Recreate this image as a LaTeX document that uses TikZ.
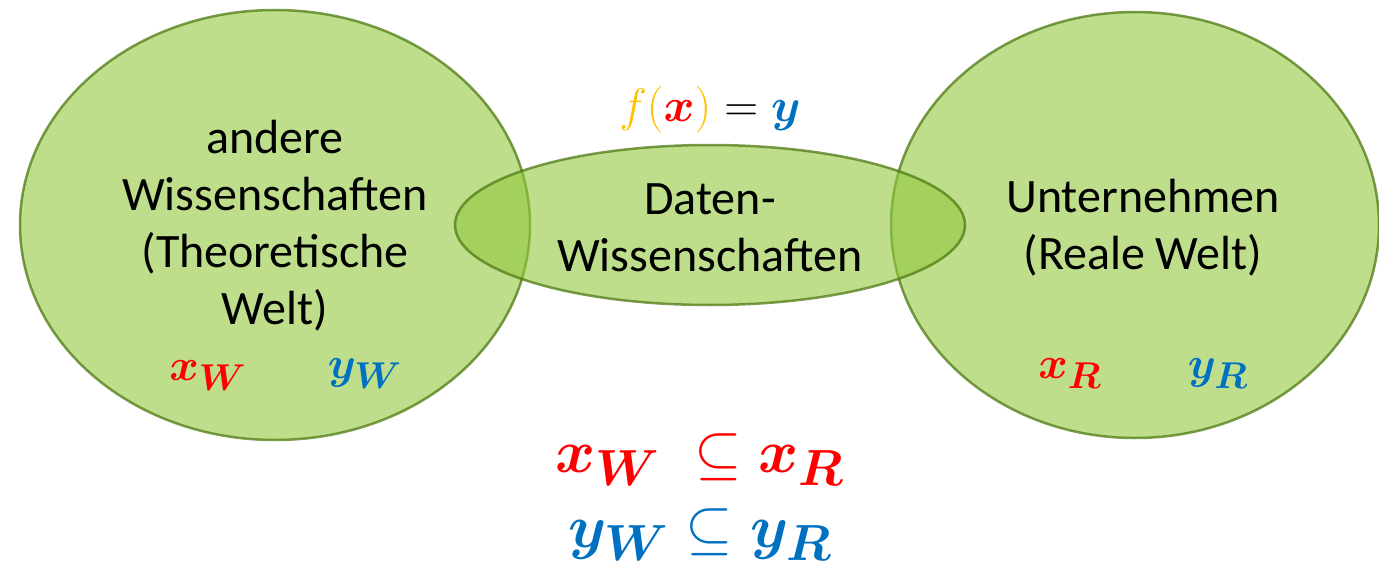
\documentclass[tikz,border=0pt]{standalone}
\usepackage{fontspec}
\setmainfont{Carlito}
\usepackage{bm}
\usetikzlibrary{shapes.geometric}
\definecolor{gfill}{HTML}{92C83E}
\definecolor{gline}{HTML}{4F7A12}
\definecolor{fyel}{HTML}{FFC000}
\definecolor{vblue}{HTML}{0070C0}
\definecolor{vred}{HTML}{FF0000}
\tikzset{
  blob/.style={ellipse, draw=gline, fill=gfill, fill opacity=0.6, draw opacity=0.75, line width=2.5pt, inner sep=0pt},
  lbl/.style={align=center, font=\fontsize{48}{57}\selectfont, text=black},
  mathsm/.style={anchor=base, font=\Huge, scale=1.8},
  mathbig/.style={anchor=base, font=\Huge, scale=2.45}
}
\begin{document}
\begin{tikzpicture}[x=1pt,y=-1pt]
\useasboundingbox (0,0) rectangle (1379,575);
\node[blob, minimum width=510pt, minimum height=430pt] (L) at (275,225) {};
\node[blob, minimum width=488pt, minimum height=426pt] (R) at (1135,225) {};
\node[blob, minimum width=510pt, minimum height=160pt] (M) at (710,225) {};
\node[lbl] (Lt) at (275,226) {andere\\Wissenschaften\\(Theoretische\\Welt)};
\node[lbl] (Mt) at (710,228) {Daten-\\Wissenschaften};
\node[lbl] (Rt) at (1143,228) {Unternehmen\\(Reale Welt)};
\node[mathsm, scale=1.05] (f) at (710,122) {${\color{fyel}f(}{\color{vred}\bm{x}}{\color{fyel})}=\color{vblue}\bm{y}$};
\node[mathsm, text=vred] (xw) at (208,380) {$\bm{x_W}$};
\node[mathsm, text=vblue] (yw) at (365,378) {$\bm{y_W}$};
\node[mathsm, text=vred] (xr) at (1070,378) {$\bm{x_R}$};
\node[mathsm, text=vblue] (yr) at (1218,378) {$\bm{y_R}$};
\node[mathbig, text=vred] (s1) at (700,472) {$\bm{x_W}\;\subseteq\bm{x_R}$};
\node[mathbig, text=vblue] (s2) at (700,547) {$\bm{y_W}\subseteq\bm{y_R}$};
\end{tikzpicture}
\end{document}
